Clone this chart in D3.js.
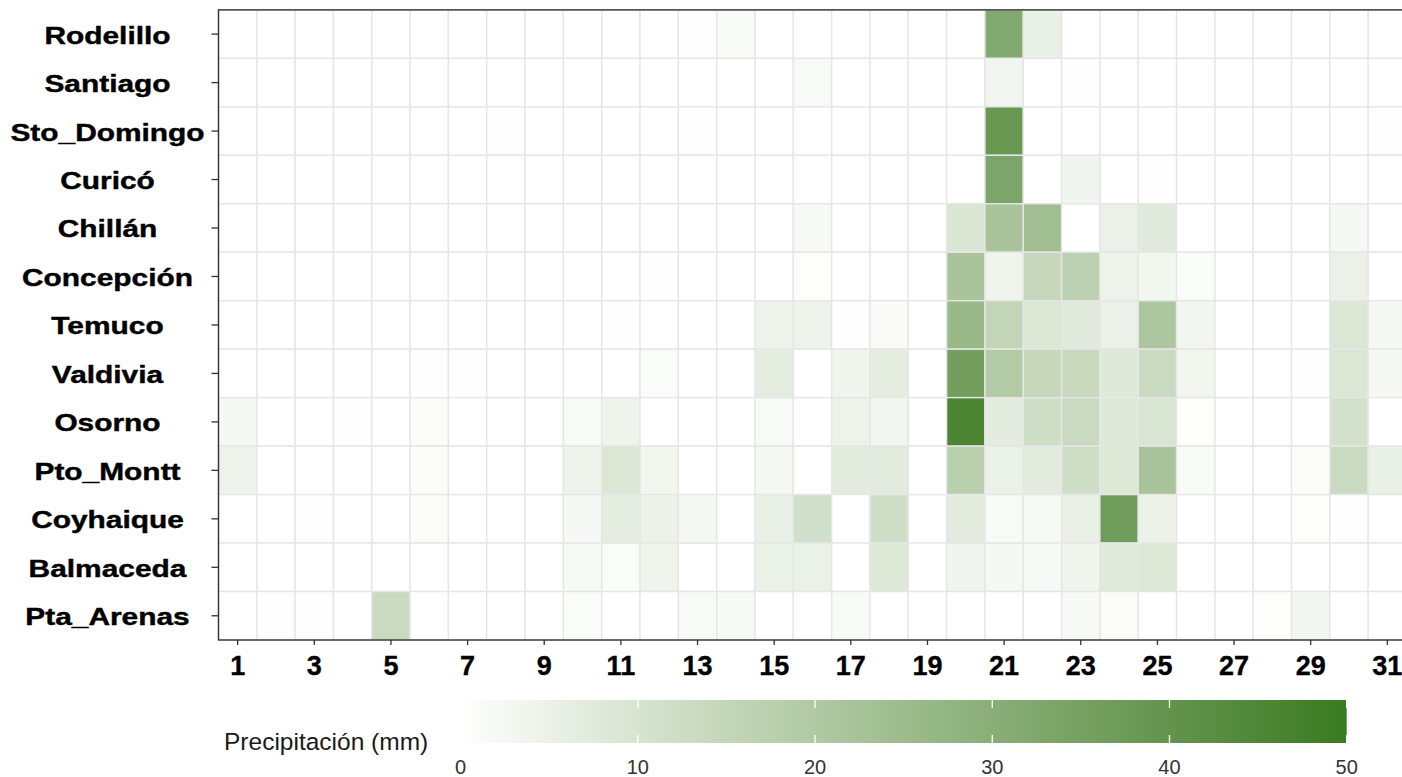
<!DOCTYPE html>
<html>
<head>
<meta charset="utf-8">
<script src="https://cdn.jsdelivr.net/npm/d3@7"></script>
<style>
  body { margin: 0; background: #ffffff; }
  svg { display: block; }
</style>
</head>
<body>
<svg id="chart" width="1402" height="777"></svg>
<script>
// Stations, top to bottom (north to south)
const stations = ["Rodelillo", "Santiago", "Sto_Domingo", "Curicó", "Chillán", "Concepción",
  "Temuco", "Valdivia", "Osorno", "Pto_Montt", "Coyhaique", "Balmaceda", "Pta_Arenas"];

// Days of the month
const days = [1, 2, 3, 4, 5, 6, 7, 8, 9, 10, 11, 12, 13, 14, 15, 16, 17, 18, 19, 20,
  21, 22, 23, 24, 25, 26, 27, 28, 29, 30, 31];
const dayTicks = [1, 3, 5, 7, 9, 11, 13, 15, 17, 19, 21, 23, 25, 27, 29, 31];
const legendTicks = [0, 10, 20, 30, 40, 50];

// Daily precipitation (mm) per station, day 1..31
const rodelillo  = [0, 0, 0, 0, 0, 0, 0, 0, 0, 0, 0, 0, 0.5, 1.6, 0, 0, 0, 0, 0, 0, 32, 5.5, 0, 0, 0, 0, 0, 0, 0, 0, 0];
const santiago   = [0, 0, 0, 0, 0, 0, 0, 0, 0, 0, 0, 0, 0, 0, 0, 1.8, 0, 0, 0, 0, 3.2, 0, 0.4, 0, 0, 0, 0, 0, 0, 0, 0];
const stoDomingo = [0, 0, 0, 0, 0, 0, 0, 0.3, 0, 0, 0, 0, 0.3, 0, 0, 0, 0, 0, 0, 0, 38.5, 0, 0, 0, 0, 0, 0, 0, 0, 0, 0.4];
const curico     = [0, 0, 0, 0, 0, 0, 0, 0, 0, 0, 0, 0, 0, 0, 0, 0, 0, 0, 0, 0, 33.5, 0, 3.5, 0, 0.5, 0, 0, 0, 0, 0, 0];
const chillan    = [0, 0, 0, 0, 0, 0, 0, 0, 0, 0, 0, 0, 0, 0, 0, 2.2, 0, 0, 0, 9.4, 21.8, 24, 0, 5, 7.5, 0, 0, 0, 0, 2.5, 0];
const concepcion = [0, 0, 0, 0, 0, 0, 0, 0, 0, 0, 0, 0.4, 0, 0, 0, 0.6, 0, 0, 0, 21.8, 4, 14.5, 17, 4.5, 3.4, 1.2, 0, 0, 0, 5, 0];
const temuco     = [0, 0, 0, 0, 0, 0, 0, 0, 0, 0, 0.5, 0, 0, 0, 4.5, 4.2, 0.5, 1.3, 0, 26, 15.5, 9, 7.5, 5, 21, 3.2, 0, 0, 0, 9, 2.4];
const valdivia   = [0, 0, 0, 0, 0, 0.4, 0.3, 0, 0, 0, 0, 1.2, 0, 0, 6.5, 0, 3.8, 6.5, 0, 36, 19.5, 14.5, 14, 8, 13.5, 3.3, 0, 0, 0.3, 9, 2.6];
const osorno     = [2.5, 0, 0, 0.5, 0, 1, 0, 0, 0, 1.8, 4.3, 0, 0, 0, 1.8, 0, 4.5, 3.2, 0, 46, 7, 12, 13.5, 8, 9.5, 0.6, 0, 0, 0, 11, 0];
const ptoMontt   = [4.5, 0, 0, 0, 0, 1, 0, 0, 0, 4.3, 9, 3.3, 0, 0, 2.8, 0, 6.8, 7.2, 0, 17.5, 5.2, 7.3, 12, 8.5, 22, 1.5, 0, 0, 0.8, 13.5, 5.5];
const coyhaique  = [0, 0, 0.4, 0, 0, 1, 0, 0, 0, 2.4, 6.5, 4.8, 2.8, 0, 5.8, 11.5, 0, 12, 0, 7.2, 1.8, 2.3, 5.3, 37, 4.8, 0, 0, 0, 0.6, 0.5, 0];
const balmaceda  = [0, 0, 0, 0, 0, 0, 0, 0, 0, 2, 1.2, 4, 0, 0, 5.2, 5.2, 0, 8.5, 0, 3.5, 2.4, 2.2, 3.8, 7.8, 8.5, 0, 0, 0, 0, 0, 0];
const ptaArenas  = [0, 0.4, 0.4, 0, 13.5, 0, 0, 0, 0, 1.2, 0, 0, 1.8, 2.2, 0, 0, 1.8, 0, 0, 0, 0, 0, 2, 1, 0, 0, 0, 0.6, 3.2, 0, 0];

const precip = [rodelillo, santiago, stoDomingo, curico, chillan, concepcion, temuco,
  valdivia, osorno, ptoMontt, coyhaique, balmaceda, ptaArenas];

const cells = stations.flatMap((s, i) => days.map((d, j) => ({ station: s, day: d, value: precip[i][j] })));

const svg = d3.select("#chart");

const x = d3.scaleBand().domain(days).range([218.5, 1406.5]).padding(0);
const y = d3.scaleBand().domain(stations).range([9.9, 640]).padding(0);

const color = d3.scaleLinear()
  .domain([0, 50])
  .range(["#ffffff", "#3a7a21"])
  .interpolate(d3.interpolateLab)
  .clamp(true);

// Heatmap tiles
svg.append("g")
  .selectAll("rect")
  .data(cells)
  .join("rect")
  .attr("x", d => x(d.day))
  .attr("y", d => y(d.station))
  .attr("width", x.bandwidth())
  .attr("height", y.bandwidth())
  .attr("fill", d => color(d.value))
  .attr("stroke", "#e6e6e6")
  .attr("stroke-width", 1.4);

// Panel border
svg.append("rect")
  .attr("x", x.range()[0])
  .attr("y", y.range()[0])
  .attr("width", x.range()[1] - x.range()[0])
  .attr("height", y.range()[1] - y.range()[0])
  .attr("fill", "none")
  .attr("stroke", "#333333")
  .attr("stroke-width", 1.4);

// Bottom axis: day of month
const xAxis = svg.append("g")
  .attr("transform", `translate(0,${y.range()[1]})`)
  .call(d3.axisBottom(x).tickValues(dayTicks).tickSize(5).tickSizeOuter(0).tickPadding(11));
xAxis.select(".domain").remove();
xAxis.selectAll(".tick line").attr("stroke", "#333333").attr("stroke-width", 1.3);
xAxis.selectAll(".tick text")
  .attr("fill", "#000000")
  .attr("stroke", "#000000")
  .attr("stroke-width", 0.35)
  .style("font-family", "'Liberation Sans', Arial, sans-serif")
  .style("font-weight", "bold")
  .style("font-size", "27px");

// Left axis: stations
const yAxis = svg.append("g")
  .attr("transform", `translate(${x.range()[0]},0)`)
  .call(d3.axisLeft(y).tickSize(7).tickSizeOuter(0));
yAxis.select(".domain").remove();
yAxis.selectAll(".tick line").attr("stroke", "#333333").attr("stroke-width", 1.3);
yAxis.selectAll(".tick text")
  .attr("x", 0)
  .attr("dy", "0.41em")
  .attr("text-anchor", "middle")
  .attr("transform", `translate(${107.5 - x.range()[0]},0) scale(1.3,1)`)
  .attr("fill", "#000000")
  .attr("stroke", "#000000")
  .attr("stroke-width", 0.4)
  .style("font-family", "'Liberation Sans', Arial, sans-serif")
  .style("font-weight", "bold")
  .style("font-size", "23px");

// Colour bar legend
const legX = d3.scaleLinear().domain([0, 50]).range([460.6, 1346.7]);
const barTop = 700, barH = 43;

const grad = svg.append("defs").append("linearGradient")
  .attr("id", "precipGradient")
  .attr("x1", "0%").attr("x2", "100%").attr("y1", "0%").attr("y2", "0%");
grad.selectAll("stop")
  .data(d3.range(0, 1.0001, 0.02))
  .join("stop")
  .attr("offset", t => `${t * 100}%`)
  .attr("stop-color", t => color(t * 50));

svg.append("rect")
  .attr("x", legX(0))
  .attr("y", barTop)
  .attr("width", legX(50) - legX(0))
  .attr("height", barH)
  .attr("fill", "url(#precipGradient)");

const legTicks = svg.append("g");
legTicks.selectAll("line.top")
  .data(legendTicks)
  .join("line")
  .attr("class", "top")
  .attr("x1", d => legX(d)).attr("x2", d => legX(d))
  .attr("y1", barTop).attr("y2", barTop + 8)
  .attr("stroke", "#ffffff").attr("stroke-width", 1.3);
legTicks.selectAll("line.bottom")
  .data(legendTicks)
  .join("line")
  .attr("class", "bottom")
  .attr("x1", d => legX(d)).attr("x2", d => legX(d))
  .attr("y1", barTop + barH - 8).attr("y2", barTop + barH)
  .attr("stroke", "#ffffff").attr("stroke-width", 1.3);

svg.append("g")
  .selectAll("text")
  .data(legendTicks)
  .join("text")
  .attr("x", d => legX(d))
  .attr("y", 774)
  .attr("text-anchor", "middle")
  .attr("fill", "#333333")
  .style("font-family", "'Liberation Sans', Arial, sans-serif")
  .style("font-size", "20px")
  .text(d => d);

svg.append("text")
  .attr("x", 224)
  .attr("y", 749.5)
  .attr("fill", "#1a1a1a")
  .style("font-family", "'Liberation Sans', Arial, sans-serif")
  .style("font-size", "24.5px")
  .text("Precipitación (mm)");
</script>
</body>
</html>
